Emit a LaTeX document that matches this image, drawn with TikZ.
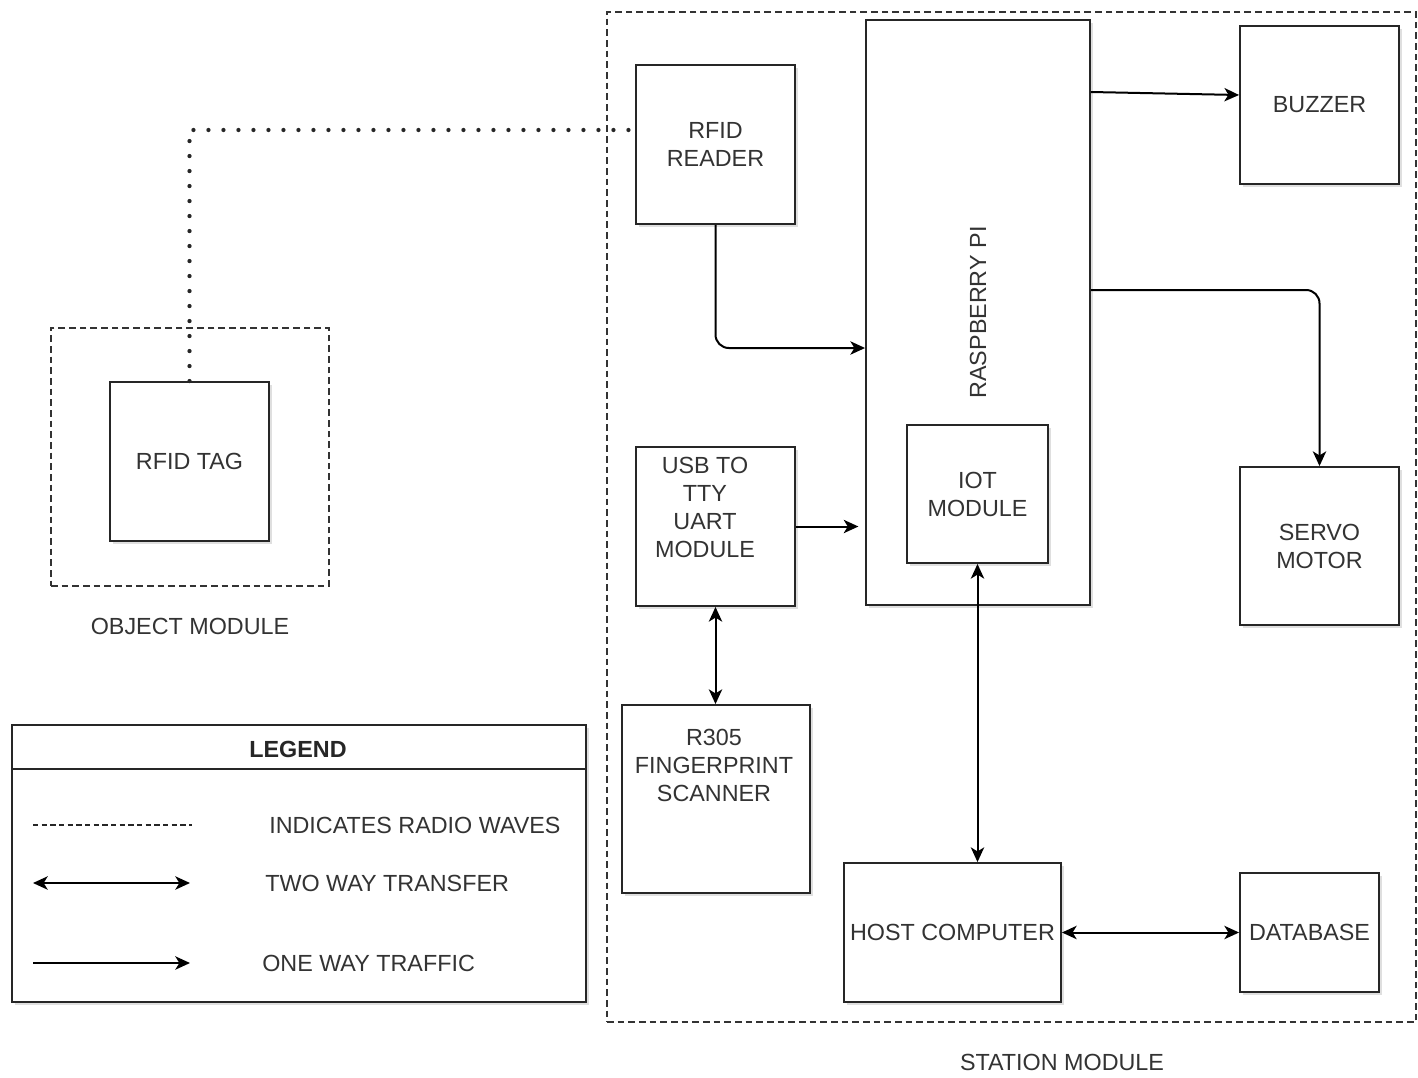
\documentclass[tikz,border=0pt]{standalone}
\usepackage{fontspec}
\setmainfont{Liberation Sans}
\usetikzlibrary{arrows.meta,shadows}
\definecolor{txt}{HTML}{333333}
\begin{document}
\begin{tikzpicture}[x=0.75pt,y=-0.75pt,
  every node/.style={font=\fontsize{17.5}{21}\selectfont, text=txt, align=center},
  blk/.style={draw=black!85, line width=1.4pt, fill=white, inner sep=0pt,
    drop shadow={shadow xshift=2.5pt, shadow yshift=-2.5pt, opacity=0.25}},
  modbox/.style={draw=black!80, line width=1.1pt, dash pattern=on 5pt off 3pt, inner sep=0pt},
  conn/.style={draw=black, line width=1.5pt},
  oneway/.style={-{Stealth[length=11pt,width=10pt,inset=3pt]}},
  twoway/.style={{Stealth[length=11pt,width=10pt,inset=3pt]}-{Stealth[length=11pt,width=10pt,inset=3pt]}},
  radio/.style={line width=3.2pt, line cap=round, dash pattern=on 0pt off 11.25pt, draw=black!85},
  legdash/.style={draw=black!85, line width=0.9pt, dash pattern=on 4pt off 2.5pt},
  legtxt/.style={anchor=west, inner sep=0pt},
]
\useasboundingbox (0,0) rectangle (1418,1078);

% module containers
\node[modbox, minimum width=606.75pt, minimum height=757.5pt] (station) at (1011.5,517) {};
\node[modbox, minimum width=208.5pt, minimum height=193.5pt] (object) at (190,457) {};
\node (stationlbl) at (1062,1062) {STATION MODULE};
\node (objectlbl) at (190,626) {OBJECT MODULE};

% blocks
\node[blk, minimum width=119.25pt, minimum height=119.25pt] (tag) at (189.5,461.5) {RFID TAG};
\node[blk, minimum width=119.25pt, minimum height=119.25pt] (reader) at (715.5,144.5) {RFID\\READER};
\node[blk, minimum width=168pt, minimum height=438.75pt,
      label={[rotate=90]center:RASPBERRY PI}] (rpi) at (978,312.5) {};
\node[blk, minimum width=105.75pt, minimum height=103.5pt] (iot) at (977.5,494) {IOT\\MODULE};
\node[blk, minimum width=119.25pt, minimum height=118.5pt] (buzzer) at (1319.5,105) {BUZZER};
\node[blk, minimum width=119.25pt, minimum height=118.5pt] (servo) at (1319.5,546) {SERVO\\MOTOR};
\node[blk, minimum width=119.25pt, minimum height=119.25pt] (usb) at (715.5,526.5) {};
\node (usbtxt) at (705,507) {USB TO\\TTY\\UART\\MODULE};
\node[blk, minimum width=141pt, minimum height=141pt] (r305) at (716,799) {};
\node (r305txt) at (714,765) {R305\\FINGERPRINT\\SCANNER};
\node[blk, minimum width=162.75pt, minimum height=104.25pt] (host) at (952.5,932.5) {HOST COMPUTER};
\node[blk, minimum width=104.25pt, minimum height=89.25pt] (db) at (1309.5,932.5) {DATABASE};

% connectors
\coordinate (dotturn) at (189.5,130);
\draw[radio] (tag.north) -- (dotturn) -- (dotturn -| reader.west);
\coordinate (rdin) at (0,348);
\draw[conn, oneway, rounded corners=10pt] (reader.south) |- (rdin -| rpi.west);
\draw[conn, oneway, shorten >=5pt] (usb.east) -- (usb.east -| rpi.west);
\draw[conn, twoway] (usb.south) -- (usb.south |- r305.north);
\coordinate (bz1) at (0,92);
\coordinate (bz2) at (0,95);
\draw[conn, oneway] (bz1 -| rpi.east) -- (bz2 -| buzzer.west);
\coordinate (sv) at (0,290);
\draw[conn, oneway, rounded corners=10pt] (sv -| rpi.east) -| (servo.north);
\draw[conn, twoway] (iot.south) -- (iot.south |- host.north);
\draw[conn, twoway] (host.east) -- (db.west);

% legend
\node[blk, minimum width=430.5pt, minimum height=207.75pt] (legend) at (299,863.5) {};
\draw[draw=black!85, line width=1.4pt] ([yshift=-33.75pt]legend.north west) -- ([yshift=-33.75pt]legend.north east);
\node[font=\fontsize{17.5}{21}\selectfont\bfseries, text=black!85] (legendtitle) at (298,749) {LEGEND};
\coordinate (l1a) at (33,825);
\coordinate (l1b) at (192,825);
\coordinate (l2a) at (33,883);
\coordinate (l2b) at (190,883);
\coordinate (l3a) at (33,963);
\coordinate (l3b) at (190,963);
\draw[legdash] (l1a) -- (l1b);
\draw[conn, twoway] (l2a) -- (l2b);
\draw[conn, oneway] (l3a) -- (l3b);
\node[legtxt] (leg1) at (269,825) {INDICATES RADIO WAVES};
\node[legtxt] (leg2) at (265,883) {TWO WAY TRANSFER};
\node[legtxt] (leg3) at (262,963) {ONE WAY TRAFFIC};
\end{tikzpicture}
\end{document}
